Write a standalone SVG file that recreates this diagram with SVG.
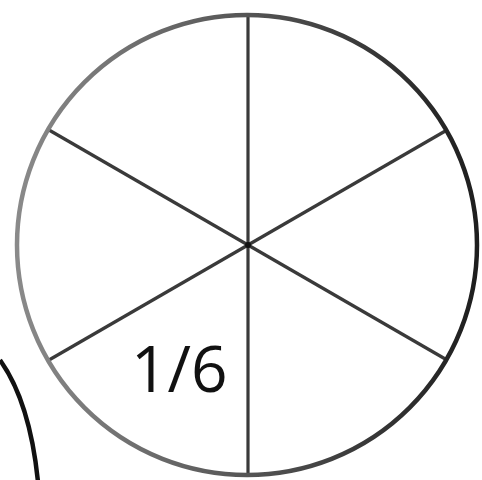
<svg xmlns="http://www.w3.org/2000/svg" width="482" height="480" viewBox="0 0 482 480">
  <defs>
    <linearGradient id="rim" x1="0" y1="0" x2="1" y2="0">
      <stop offset="0" stop-color="#8a8a8a"/>
      <stop offset="0.5" stop-color="#555"/>
      <stop offset="1" stop-color="#1e1e1e"/>
    </linearGradient>
  </defs>
  <style>
    .spoke { stroke: #3a3a3a; stroke-width: 3.2; fill: none; }
    .label { font-family: "Open Sans", "Liberation Sans", Arial, sans-serif; font-size: 64px; fill: #111; }
  </style>
  <rect width="482" height="480" fill="#ffffff"/>
  <g id="other-circle">
    <path d="M0,360 Q30,402 38,482" fill="none" stroke="#111" stroke-width="4.5"/>
  </g>
  <g id="connectors">
    <line class="spoke" x1="248" y1="15" x2="248" y2="475"/>
    <line class="spoke" x1="49" y1="130" x2="447" y2="360"/>
    <line class="spoke" x1="49" y1="360" x2="447" y2="130"/>
  </g>
  <g id="circle">
    <circle cx="247" cy="245" r="230" fill="none" stroke="url(#rim)" stroke-width="4.5"/>
  </g>
  <g id="center">
    <circle cx="248" cy="245" r="3" fill="#111"/>
  </g>
  <g id="label">
    <text class="label" x="131" y="392">1/6</text>
  </g>
</svg>
